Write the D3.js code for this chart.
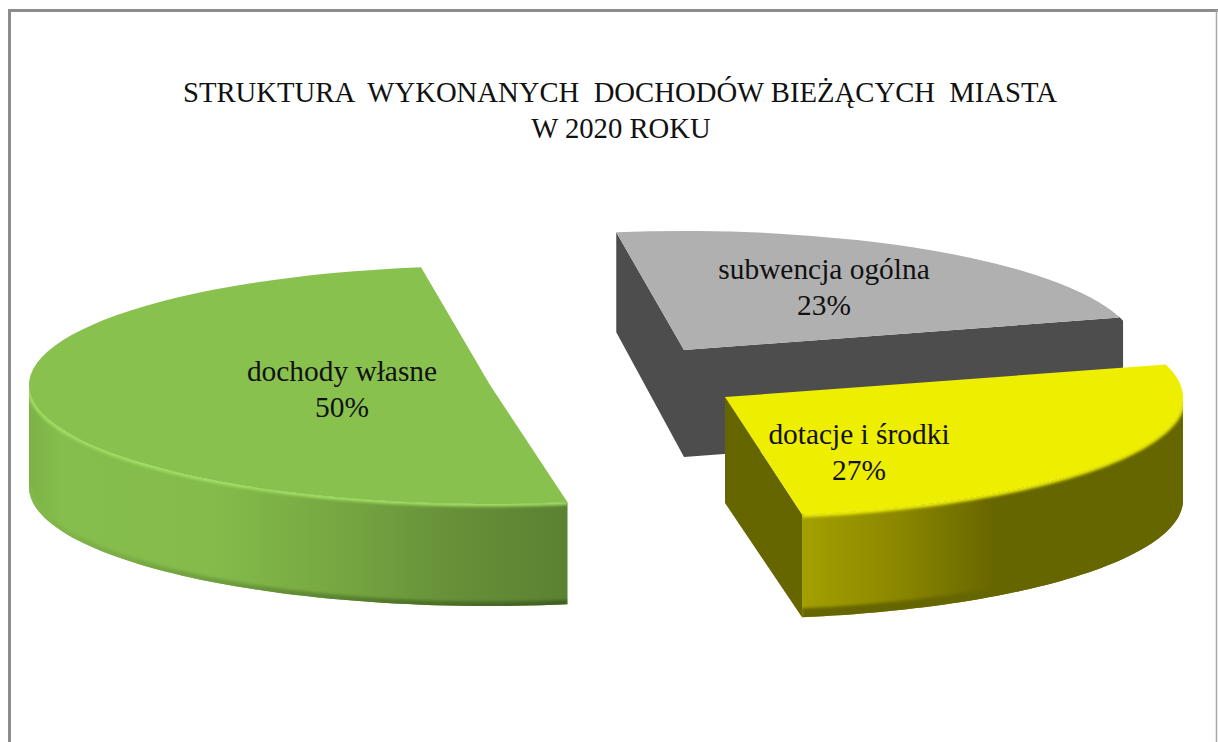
<!DOCTYPE html>
<html><head><meta charset="utf-8">
<script src="https://cdn.jsdelivr.net/npm/d3@7/dist/d3.min.js"></script>
<style>html,body{margin:0;padding:0;background:#fff;overflow:hidden}svg{display:block}text{font-family:"Liberation Serif","Times New Roman",serif;fill:#111;white-space:pre}</style>
</head><body><div id="c"></div>
<script>
const categories = ["subwencja ogólna", "dotacje i środki", "dochody własne"];
const shares = [23.0, 26.7, 50.3];
const titleLines = ["STRUKTURA  WYKONANYCH  DOCHODÓW BIEŻĄCYCH  MIASTA", "W 2020 ROKU"];

const W = 1218, H = 742;
const startDeg = -8.6;
const ry = 119;
const layout = [
  {cx:684, cy:350, rx:453, depth:107, top:"#b0b0b0", cut:"#4d4d4d", wallFrom:"end", lx:140, ly:-71},
  {cx:725, cy:397, rx:458, depth:103, top:"#eeee00", cut:"#666600", wallFrom:"start", lx:134, ly:47},
  {cx:490, cy:385, rx:461, depth:102, top:"#89c14f", cut:"#5a8232", wallFrom:"left", lx:-148, ly:-4}
];
const TAU = Math.PI*2;
const svg = d3.select("#c").append("svg").attr("width",W).attr("height",H);
const defs = svg.append("defs");
defs.append("filter").attr("id","b1").attr("x","-5%").attr("y","-20%").attr("width","110%").attr("height","140%")
  .append("feGaussianBlur").attr("stdDeviation",1.6);
defs.append("filter").attr("id","b2").attr("x","-5%").attr("y","-20%").attr("width","110%").attr("height","140%")
  .append("feGaussianBlur").attr("stdDeviation",1.8);

function grad(id, x1, x2, stops){
  const g = defs.append("linearGradient").attr("id",id).attr("gradientUnits","userSpaceOnUse")
    .attr("x1",x1).attr("x2",x2).attr("y1",0).attr("y2",0);
  stops.forEach(s=>g.append("stop").attr("offset",s[0]).attr("stop-color",s[1]));
}
grad("gGreen",28,567,[[0,"#7cb146"],[0.06,"#86be4d"],[0.35,"#84bb4b"],[0.55,"#78a942"],[0.8,"#668f38"],[1,"#5a8232"]]);
grad("gYellow",803,1183,[[0,"#a3a000"],[0.25,"#8a8700"],[0.48,"#6b6900"],[0.5,"#666600"],[1,"#666600"]]);
grad("gGreenEdge",28,567,[[0,"#84ba4b"],[0.35,"#6f9e3e"],[0.7,"#4f7329"],[1,"#3f5f22"]]);

svg.append("rect").attr("x",9.5).attr("y",10.5).attr("width",W+20).attr("height",H+20)
  .attr("fill","#fff").attr("stroke","#8c8c8c").attr("stroke-width",3);
svg.append("line").attr("x1",1216.5).attr("x2",1216.5).attr("y1",10).attr("y2",H).attr("stroke","#a8a8a8").attr("stroke-width",1.5);

const title = svg.append("g").attr("text-anchor","middle").attr("font-size",28.7);
title.selectAll("text").data(titleLines).join("text")
  .attr("x",(d,i)=>620+i).attr("y",(d,i)=>102+i*36).text(d=>d);

const pie = d3.pie().sort(null).value(d=>d)
  .startAngle(startDeg*Math.PI/180).endAngle(startDeg*Math.PI/180+TAU);
const arcs = pie(shares);

const pt = (L,a,dy=0)=>[L.cx+L.rx*Math.sin(a), L.cy-ry*Math.cos(a)+dy];
const line = d3.line();
const range = (a,b)=>d3.range(0,61).map(i=>a+(b-a)*i/60);

const order = [0,2,1];
order.forEach(i=>{
  const d = arcs[i], L = layout[i];
  const g = svg.append("g");
  const a0=d.startAngle, a1=d.endAngle;
  const centre=[L.cx,L.cy];
  let wa0, wa1, fill;
  if(L.wallFrom==="end"){ wa0=a1-0.01; wa1=a1+0.027; fill=L.cut; }
  else if(L.wallFrom==="start"){ wa0=Math.PI/2; wa1=a1; fill="url(#gYellow)"; }
  else { wa0=a0; wa1=1.5*Math.PI; fill="url(#gGreen)"; }
  const upper=range(wa0,wa1).map(a=>pt(L,a));
  const lower=range(wa1,wa0).map(a=>pt(L,a,L.depth));
  const wallPath=line([...upper,...lower])+"Z";
  const clipId="clip"+i;
  defs.append("clipPath").attr("id",clipId).append("path").attr("d",wallPath);

  if(i===0){
    const pA=pt(L,a0), pB=pt(L,a1);
    g.append("path").attr("fill",L.cut).attr("d",line([pA,centre,pB,[pB[0],pB[1]+L.depth],[L.cx,L.cy+L.depth],[pA[0],pA[1]+L.depth-7]])+"Z");
  }
  if(i===1){
    const pA=pt(L,a1);
    g.append("path").attr("fill",L.cut).attr("d",line([centre,pA,[pA[0],pA[1]+L.depth],[L.cx,L.cy+L.depth+3]])+"Z");
  }
  g.append("path").attr("d",wallPath).attr("fill",fill);
  if(i>0){
    const w=g.append("g").attr("clip-path",`url(#${clipId})`);
    w.append("path").attr("d",line(lower)).attr("fill","none")
      .attr("stroke",i===1?"#666600":"url(#gGreenEdge)").attr("stroke-width",i===1?18:9).attr("filter","url(#b1)");
    w.append("path").attr("d",line(upper)).attr("fill","none")
      .attr("stroke",i===1?"#eeee00":"#a2e264").attr("stroke-width",i===1?6:5).attr("filter","url(#b2)");
  }
  g.append("path")
    .attr("transform",`translate(${L.cx},${L.cy}) scale(1,${ry/L.rx})`)
    .attr("d",d3.arc().innerRadius(0).outerRadius(L.rx)(d))
    .attr("fill",L.top);
});

const labels = svg.append("g").attr("text-anchor","middle").attr("font-size",29.4);
arcs.forEach((d,i)=>{
  const L=layout[i];
  const t=labels.append("text").attr("x",L.cx+L.lx).attr("y",L.cy+L.ly);
  t.append("tspan").attr("x",L.cx+L.lx).attr("dy",0).text(categories[i]);
  t.append("tspan").attr("x",L.cx+L.lx).attr("dy",36).text(d3.format("d")(d.value)+"%");
});
</script></body></html>
